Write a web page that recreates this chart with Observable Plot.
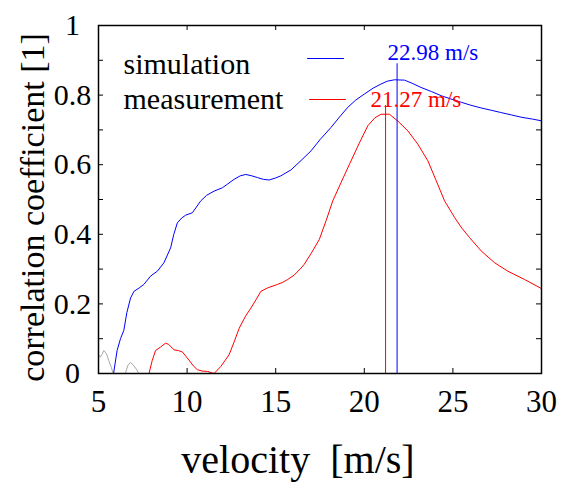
<!DOCTYPE html>
<html><head><meta charset="utf-8">
<script src="https://cdn.jsdelivr.net/npm/d3@7"></script>
<script src="https://cdn.jsdelivr.net/npm/@observablehq/plot@0.6"></script>
<style>body{margin:0;background:#fff} svg, svg text{font-family:"Liberation Serif","Times New Roman",serif}</style>
</head><body><div id="chart"></div>
<script>
// simulation (blue)
const simV = [5.85,6.05,6.24,6.43,6.6,6.81,7.0,7.3,7.56,7.94,8.32,8.69,9.07,9.25,9.45,9.7,9.92,10.3,10.77,11.1,11.52,12.0,12.3,12.65,13.0,13.31,13.65,13.97,14.3,14.63,15.0,15.29,15.86,16.43,17.0,17.5,18.12,18.6,19.07,19.5,20.0,20.5,20.95,21.3,21.7,22.27,22.7,23.2,23.8,24.35,25.0,25.5,26.0,26.6,27.2,27.7,28.3,28.9,29.5,30.0];
const simC = [0,0.066,0.10,0.124,0.175,0.217,0.236,0.246,0.256,0.28,0.294,0.318,0.361,0.40,0.433,0.447,0.455,0.462,0.496,0.512,0.524,0.534,0.545,0.558,0.568,0.572,0.568,0.563,0.558,0.556,0.562,0.568,0.585,0.612,0.64,0.672,0.707,0.737,0.765,0.785,0.803,0.82,0.832,0.84,0.844,0.843,0.834,0.822,0.81,0.798,0.787,0.779,0.771,0.763,0.756,0.75,0.743,0.736,0.731,0.726];
// measurement (red)
const measV = [7.85,8.03,8.22,8.5,8.78,8.95,9.26,9.5,9.73,10.1,10.35,10.58,10.85,11.15,11.52,11.9,12.37,12.65,12.94,13.3,13.6,13.9,14.16,14.54,15.1,15.4,15.67,16.05,16.43,16.6,17.0,17.46,17.85,18.22,18.7,19.16,19.7,20.2,20.6,20.95,21.42,21.9,22.46,23.02,23.59,24.05,24.53,25.1,25.5,25.95,26.6,27.36,28.1,29.05,30.0];
const measC = [0,0.037,0.066,0.076,0.087,0.084,0.068,0.066,0.062,0.039,0.022,0.011,0.007,0.006,0,0.02,0.054,0.09,0.13,0.165,0.188,0.213,0.236,0.246,0.256,0.262,0.27,0.283,0.303,0.313,0.345,0.385,0.44,0.496,0.55,0.601,0.66,0.712,0.735,0.745,0.745,0.725,0.697,0.659,0.611,0.555,0.496,0.448,0.418,0.39,0.352,0.318,0.294,0.27,0.244];
// grey fragments
const grayV = [5.0,5.1,5.2,5.3,5.45,5.58,5.72,5.83, 6.52,6.65,6.8,6.99,7.18,7.27];
const grayC = [0.055,0.047,0.055,0.066,0.057,0.037,0.018,0, 0,0.023,0.032,0.023,0.009,0];
const graySeg = [1,1,1,1,1,1,1,1, 2,2,2,2,2,2];
// peak markers
const peakV = [21.85, 21.2];
const peakTop = [0.89, 0.77];
const peakColor = ["blue", "red"];
const peakLabels = ["22.98 m/s", "21.27 m/s"];
// legend
const legendNames = ["simulation", "measurement"];
// ticks
const xTicks = [5,10,15,20,25,30];
const xTickLabels = ["5","10","15","20","25","30"];
const yMinorTicks = [0,0.1,0.2,0.3,0.4,0.5,0.6,0.7,0.8,0.9,1];
const yTicks = [0,0.2,0.4,0.6,0.8,1];
const yTickLabels = ["0","0.2","0.4","0.6","0.8","1"];
const xTitle = "velocity\u00a0\u00a0[m/s]";
const yTitle = "correlation coefficient [1]";

const sim = simV.map((v,i)=>({v, c: simC[i]}));
const meas = measV.map((v,i)=>({v, c: measC[i]}));
const gray = grayV.map((v,i)=>({v, c: grayC[i], s: graySeg[i]}));
const peaks = peakV.map((v,i)=>({v, top: peakTop[i], color: peakColor[i], label: peakLabels[i]}));
const xLab = new Map(xTicks.map((d,i)=>[d, xTickLabels[i]]));
const yLab = new Map(yTicks.map((d,i)=>[d, yTickLabels[i]]));

const W=572, H=482, mL=98, mR=31, mT=25, mB=109;
const pw = W-mL-mR, ph = H-mT-mB;
const FF = "Liberation Serif";
const lineShape = {draw(ctx, l){ ctx.moveTo(0,0); ctx.lineTo(0,-l); }};

const chart = Plot.plot({
  width: W, height: H,
  marginLeft: mL, marginRight: mR, marginTop: mT, marginBottom: mB,
  style: {fontFamily: FF, background: "white", color: "black", overflow: "visible"},
  x: {domain: [5, 30]},
  y: {domain: [0, 1]},
  marks: [
    Plot.line(gray, {x: "v", y: "c", z: "s", stroke: "#a8a8a8", strokeWidth: 1}),
    Plot.line(sim, {x: "v", y: "c", stroke: "blue", strokeWidth: 1}),
    Plot.line(meas, {x: "v", y: "c", stroke: "red", strokeWidth: 1}),
    Plot.ruleX(peaks, {x: "v", y1: 0, y2: "top", stroke: "color", strokeWidth: 1}),
    Plot.tickY(yMinorTicks, {y: d=>d, insetRight: pw-5, strokeWidth: 1}),
    Plot.tickY(yMinorTicks, {y: d=>d, insetLeft: pw-5, strokeWidth: 1}),
    Plot.tickX(xTicks, {x: d=>d, insetTop: ph-5, strokeWidth: 1}),
    Plot.tickX(xTicks, {x: d=>d, insetBottom: ph-5, strokeWidth: 1}),
    Plot.axisY({ticks: yTicks, tickSize: 0, tickPadding: 26, textAnchor: "middle", tickFormat: d=>yLab.get(d), fontSize: 30, fontFamily: FF, label: null}),
    Plot.axisX({ticks: xTicks, tickSize: 0, tickPadding: 16, tickFormat: d=>xLab.get(d), fontSize: 31, fontFamily: FF, label: null}),
    Plot.frame({strokeWidth: 1.5}),
    Plot.text([xTitle], {text: d=>d, frameAnchor: "bottom", textAnchor: "middle", dx: -22, dy: 87, fontSize: 40, fontFamily: FF, lineAnchor: "middle"}),
    Plot.text([yTitle], {text: d=>d, frameAnchor: "left", textAnchor: "middle", dx: -65, dy: 8, rotate: -90, fontSize: 34, fontFamily: FF, lineAnchor: "middle"}),
    Plot.text([legendNames[0]], {text: d=>d, frameAnchor: "top-left", textAnchor: "start", lineAnchor: "middle", dx: 25, dy: 38.4, fontSize: 30, fontFamily: FF}),
    Plot.text([legendNames[1]], {text: d=>d, frameAnchor: "top-left", textAnchor: "start", lineAnchor: "middle", dx: 25, dy: 73.4, fontSize: 30, fontFamily: FF}),
    Plot.vector([0], {frameAnchor: "top-left", dx: 209, dy: 33, rotate: 90, length: 36, anchor: "start", shape: lineShape, stroke: "blue", strokeWidth: 1}),
    Plot.vector([0], {frameAnchor: "top-left", dx: 211, dy: 74, rotate: 90, length: 36, anchor: "start", shape: lineShape, stroke: "red", strokeWidth: 1}),
    Plot.text([peaks[0]], {text: "label", fill: "color", frameAnchor: "top-left", textAnchor: "start", lineAnchor: "middle", dx: 289, dy: 27.6, fontSize: 23, fontFamily: FF}),
    Plot.text([peaks[1]], {text: "label", fill: "color", frameAnchor: "top-left", textAnchor: "start", lineAnchor: "middle", dx: 272, dy: 74.6, fontSize: 23, fontFamily: FF})
  ]
});
document.getElementById("chart").appendChild(chart);
</script>
</body></html>
